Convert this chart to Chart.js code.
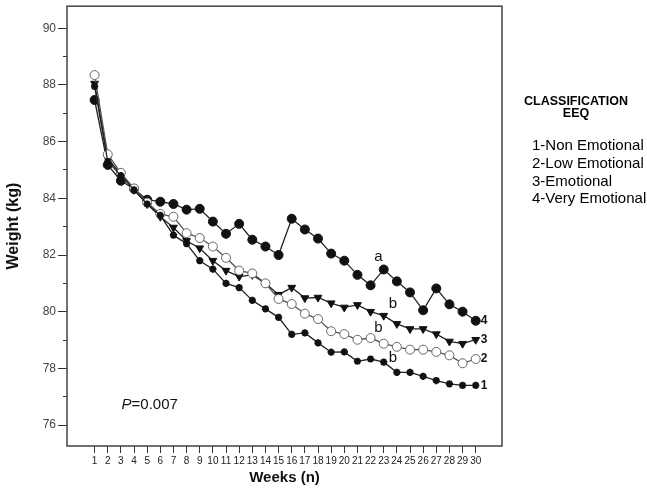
<!DOCTYPE html>
<html>
<head>
<meta charset="utf-8">
<script src="https://cdn.jsdelivr.net/npm/chart.js@4.4.1/dist/chart.umd.min.js"></script>
<style>
body { margin: 0; background: #fff; }
</style>
</head>
<body>
<canvas id="weightChart" width="647" height="491"></canvas>
<script>
const weeks = [1,2,3,4,5,6,7,8,9,10,11,12,13,14,15,16,17,18,19,20,21,22,23,24,25,26,27,28,29,30];

const nonEmotional = [87.95,85.3,84.8,84.3,83.8,83.4,82.7,82.4,81.8,81.5,81.0,80.85,80.4,80.1,79.8,79.2,79.25,78.9,78.57,78.58,78.25,78.33,78.22,77.86,77.86,77.72,77.57,77.45,77.4,77.4];
const lowEmotional = [88.35,85.55,84.9,84.35,83.85,83.45,83.35,82.77,82.6,82.3,81.9,81.45,81.35,81.0,80.45,80.27,79.93,79.74,79.31,79.21,79.01,79.07,78.87,78.76,78.66,78.66,78.58,78.46,78.18,78.33];
const emotional = [88.05,85.4,84.85,84.3,83.8,83.35,82.97,82.5,82.24,81.8,81.45,81.24,81.3,81.0,80.6,80.85,80.48,80.5,80.3,80.15,80.24,80.0,79.86,79.57,79.39,79.39,79.21,78.95,78.87,79.01];
const veryEmotional = [87.47,85.18,84.62,84.33,83.95,83.88,83.8,83.6,83.63,83.18,82.75,83.1,82.54,82.3,82.0,83.28,82.9,82.58,82.05,81.8,81.3,80.93,81.49,81.07,80.68,80.05,80.82,80.26,80.0,79.68];

const yTicks = [76,77,78,79,80,81,82,83,84,85,86,87,88,89,90];
const endLabels = ["1","2","3","4"];
const legendTitle = ["CLASSIFICATION","EEQ"];
const legendLines = ["1-Non Emotional","2-Low Emotional","3-Emotional","4-Very Emotional"];

// letters next to the lines (week, kg)
const groupLetters = [
    { week: 22.6, kg: 81.95, text: "a" },
    { week: 23.7, kg: 80.26, text: "b" },
    { week: 22.6, kg: 79.42, text: "b" },
    { week: 23.7, kg: 78.36, text: "b" }
];
const pValuePos = { week: 3.05, kg: 76.7 };

const FONT = "'Liberation Sans', Arial, sans-serif";

function pts(arr) {
    return weeks.map((w, i) => ({ x: w, y: arr[i] }));
}

const series = [nonEmotional, lowEmotional, emotional, veryEmotional];

const textLayer = {
    id: "textLayer",
    afterDraw(chart) {
        const { ctx, chartArea: a, scales: { x, y } } = chart;
        ctx.save();

        // frame
        ctx.strokeStyle = "#444";
        ctx.lineWidth = 1.5;
        ctx.strokeRect(a.left, a.top, a.right - a.left, a.bottom - a.top);

        ctx.fillStyle = "#111";
        ctx.textBaseline = "middle";

        ctx.font = "15px " + FONT;
        ctx.textAlign = "center";
        groupLetters.forEach(g => {
            ctx.fillText(g.text, x.getPixelForValue(g.week), y.getPixelForValue(g.kg));
        });

        ctx.font = "bold 12px " + FONT;
        ctx.textAlign = "left";
        series.forEach((s, i) => {
            ctx.fillText(endLabels[i], x.getPixelForValue(30) + 5, y.getPixelForValue(s[s.length - 1]));
        });

        // P value
        const px = x.getPixelForValue(pValuePos.week);
        const py = y.getPixelForValue(pValuePos.kg);
        ctx.font = "italic 15px " + FONT;
        ctx.fillText("P", px, py);
        const pw = ctx.measureText("P").width;
        ctx.font = "15px " + FONT;
        ctx.fillText("=0.007", px + pw, py);

        // classification block on the right
        ctx.fillStyle = "#000";
        ctx.textAlign = "center";
        ctx.font = "bold 12.5px " + FONT;
        legendTitle.forEach((t, i) => ctx.fillText(t, 576, 102 + i * 11.5));
        ctx.textAlign = "left";
        ctx.font = "15px " + FONT;
        legendLines.forEach((t, i) => ctx.fillText(t, 532, 146 + i * 17.7));

        ctx.restore();
    }
};

new Chart(
    document.getElementById("weightChart"),
    {
        type: "line",
        data: {
            datasets: [
                {
                    label: "1-Non Emotional",
                    data: pts(nonEmotional),
                    borderColor: "#222",
                    borderWidth: 1.3,
                    pointStyle: "star",
                    pointRadius: 3.6,
                    pointBorderWidth: 2.2,
                    pointBorderColor: "#111",
                    pointBackgroundColor: "#111"
                },
                {
                    label: "2-Low Emotional",
                    data: pts(lowEmotional),
                    borderColor: "#555",
                    borderWidth: 1.3,
                    pointStyle: "circle",
                    pointRadius: 4.5,
                    pointBorderWidth: 1,
                    pointBorderColor: "#666",
                    pointBackgroundColor: "#fff"
                },
                {
                    label: "3-Emotional",
                    data: pts(emotional),
                    borderColor: "#222",
                    borderWidth: 1.3,
                    pointStyle: "triangle",
                    pointRotation: 180,
                    pointRadius: 4.5,
                    pointBorderWidth: 1,
                    pointBorderColor: "#111",
                    pointBackgroundColor: "#111"
                },
                {
                    label: "4-Very Emotional",
                    data: pts(veryEmotional),
                    borderColor: "#222",
                    borderWidth: 1.3,
                    pointStyle: "circle",
                    pointRadius: 4.5,
                    pointBorderWidth: 1,
                    pointBorderColor: "#111",
                    pointBackgroundColor: "#111"
                }
            ]
        },
        options: {
            responsive: false,
            animation: false,
            devicePixelRatio: 1,
            layout: { padding: { left: 0, right: 145, top: 4, bottom: 0 } },
            plugins: {
                legend: { display: false },
                tooltip: { enabled: false }
            },
            scales: {
                x: {
                    type: "linear",
                    min: -1.1,
                    max: 32,
                    afterBuildTicks: s => { s.ticks = weeks.map(v => ({ value: v })); },
                    afterFit: s => { s.height = 45; s.paddingLeft = 0; s.paddingRight = 0; },
                    border: { display: false },
                    grid: {
                        drawOnChartArea: false,
                        drawTicks: true,
                        tickLength: 7,
                        tickColor: "#333",
                        tickWidth: 1
                    },
                    ticks: {
                        autoSkip: false,
                        maxRotation: 0,
                        padding: 2,
                        color: "#222",
                        font: { family: FONT, size: 10 }
                    },
                    title: {
                        display: true,
                        text: "Weeks (n)",
                        color: "#111",
                        font: { family: FONT, size: 15, weight: "bold" },
                        padding: { top: 4, bottom: 4 }
                    }
                },
                y: {
                    type: "linear",
                    min: 75.26,
                    max: 90.78,
                    afterBuildTicks: s => { s.ticks = yTicks.map(v => ({ value: v })); },
                    afterFit: s => { s.width = 67; },
                    border: { display: false },
                    grid: {
                        drawOnChartArea: false,
                        tickLength: 9,
                        tickColor: "#333",
                        // odd kg values get a short tick next to the frame
                        tickBorderDash: ctx => (ctx.tick && ctx.tick.value % 2 === 1) ? [0, 5, 4, 20] : []
                    },
                    ticks: {
                        padding: 2,
                        color: "#444",
                        // small lineHeight keeps the top label from pushing the plot down
                        font: { family: FONT, size: 12, lineHeight: 0.3 },
                        callback: v => (v % 2 === 0 ? v : "")
                    },
                    title: {
                        display: true,
                        text: "Weight (kg)",
                        color: "#111",
                        font: { family: FONT, size: 16, weight: "bold" },
                        padding: { top: 4, bottom: 4 }
                    }
                }
            }
        },
        plugins: [textLayer]
    }
);
</script>
</body>
</html>
